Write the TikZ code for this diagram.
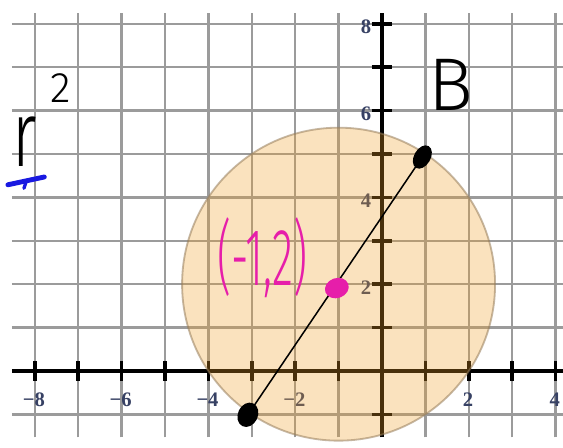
\documentclass[tikz,border=0pt]{standalone}
\usepackage{fontspec}
\setmainfont{Liberation Serif}
\newfontfamily\hand{Fira Sans}[UprightFont={* Light}]
\usetikzlibrary{shapes.geometric}
\definecolor{gridgray}{RGB}{155,155,155}
\definecolor{labelcol}{RGB}{55,65,100}
\definecolor{discfill}{RGB}{240,160,40}
\definecolor{discedge}{RGB}{150,125,90}
\definecolor{pinkink}{RGB}{230,30,170}
\definecolor{blueink}{RGB}{25,25,225}
\tikzset{
  gridline/.style={draw=gridgray, line width=1.6pt},
  axisline/.style={draw=black, line width=2.8pt},
  tickmark/.style={draw=black, line width=2.3pt},
  axlabel/.style={text=labelcol, font=\bfseries\fontsize{13.5}{15}\selectfont, inner sep=0pt},
  blob/.style={ellipse, fill=black, inner sep=0pt},
  handtext/.style={inner sep=0pt, font=\hand},
}
\begin{document}
\begin{tikzpicture}
\useasboundingbox (-8.802,-1.774) rectangle (4.171,8.548);
\fill[white] (-8.802,-1.774) rectangle (4.171,8.548);
% grid
\foreach \x in {-8,...,4} \draw[gridline] (\x,-1.53) -- (\x,8.25);
\foreach \y in {-1,...,8} \draw[gridline] (-8.53,\y) -- (4.171,\y);
% axes
\draw[axisline] (-8.53,0) -- (4.171,0);
\draw[axisline] (0,-1.53) -- (0,8.25);
\foreach \x in {-8,...,4} \draw[tickmark] (\x,-0.22) -- (\x,0.22);
\foreach \y in {-1,...,8} \draw[tickmark] (-0.24,\y) -- (0.24,\y);
% labels
\foreach \x/\t in {-8/−8,-6/−6,-4/−4,-2/−2,2/2,4/4}
  \node[axlabel] (xl\x) at (\x-0.02,-0.67) {\t};
\foreach \y in {2,4,6,8}
  \node[axlabel] (yl\y) at (-0.37,\y-0.07) {\y};
% disc
\fill[discfill, fill opacity=0.3] (-1,2) circle (3.606);
\draw[discedge, line width=1.2pt, draw opacity=0.55] (-1,2) circle (3.606);
% points and segment
\node[blob, minimum width=0.46cm, minimum height=0.58cm, rotate=-25] (A) at (-3.09,-1.01) {};
\node[blob, minimum width=0.38cm, minimum height=0.58cm, rotate=-30] (B) at (0.93,4.93) {};
\draw[black, line width=1pt] (A.center) -- (B.center);
\node[ellipse, fill=pinkink, inner sep=0pt, minimum width=0.56cm, minimum height=0.46cm, rotate=20] (M) at (-1.04,1.91) {};
% handwriting
\node[handtext, anchor=base, font=\hand\fontsize{28}{30}\selectfont] (two) at (-7.40,6.175) {2};
\node[handtext, anchor=base, font=\hand\fontsize{61}{64}\selectfont, xscale=0.7] (r) at (-8.23,4.70) {r};
\node[handtext, anchor=base, font=\hand\fontsize{49}{52}\selectfont] (Blab) at (1.59,6.01) {B};
\node[handtext, text=pinkink, font=\hand\fontsize{38}{40}\selectfont, xscale=0.75, yscale=1.4] (Mlab) at (-2.76,2.60) {(-1,2)};
% blue dash
\coordinate (d1) at (-8.62,4.29);
\coordinate (d2) at (-7.78,4.47);
\coordinate (d3) at (-8.25,4.21);
\draw[blueink, line width=3.2pt, line cap=round] (d1) -- (d2);
\draw[blueink, line width=2.2pt, line cap=round] (d3) -- ++(0.05,0.15);
\end{tikzpicture}
\end{document}
